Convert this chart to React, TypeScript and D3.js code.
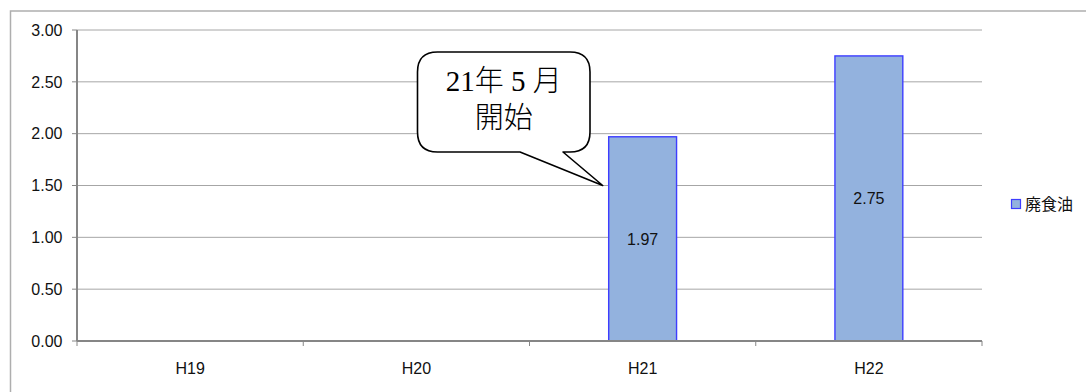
import React from "react";
import * as d3 from "d3";

// Fiscal years and collected waste cooking oil
const categories: string[] = ["H19", "H20", "H21", "H22"];
const values: (number | null)[] = [null, null, 1.97, 2.75];
const yTicks: number[] = [0, 0.5, 1, 1.5, 2, 2.5, 3];
const seriesName = "廃食油";
const calloutLines: string[] = ["21年 5 月", "開始"];

const W = 1086;
const H = 392;
const plot = { left: 77, right: 982, top: 30, bottom: 341 };

const barFill = "#93B2DE";
const barStroke = "#3D3DFF";
const gridColor = "#A6A6A6";
const axisColor = "#868686";
const sans = "'Liberation Sans', Arial, 'Noto Sans CJK JP', sans-serif";

export default function App() {
  const x = d3
    .scaleBand<string>()
    .domain(categories)
    .range([plot.left, plot.right])
    .paddingInner(0)
    .paddingOuter(0);
  const y = d3.scaleLinear().domain([0, 3]).range([plot.bottom, plot.top]);
  const bw = x.bandwidth();
  const barW = bw * 0.3;

  // Speech bubble pointing at the start of the H21 bar
  const tipX = (x("H21") as number) + (bw - barW) / 2 - 6;
  const tipY = y(1.5);
  const bx0 = 417.5, bx1 = 590, by0 = 52, by1 = 152, r = 20;
  const pb0 = 520, pb1 = 563;
  const bubble = [
    `M ${bx0 + r} ${by0}`,
    `L ${bx1 - r} ${by0}`,
    `Q ${bx1} ${by0} ${bx1} ${by0 + r}`,
    `L ${bx1} ${by1 - r}`,
    `Q ${bx1} ${by1} ${bx1 - r} ${by1}`,
    `L ${pb1} ${by1}`,
    `L ${tipX} ${tipY}`,
    `L ${pb0} ${by1}`,
    `L ${bx0 + r} ${by1}`,
    `Q ${bx0} ${by1} ${bx0} ${by1 - r}`,
    `L ${bx0} ${by0 + r}`,
    `Q ${bx0} ${by0} ${bx0 + r} ${by0}`,
    "Z",
  ].join(" ");
  const bubbleCx = (bx0 + bx1) / 2;

  return (
    <div style={{ position: "absolute", left: 0, top: 0 }}>
      <svg width={W} height={H} style={{ display: "block", background: "#fff" }}>
        {/* chart frame */}
        <rect x={10.5} y={11} width={1090} height={420} fill="#fff" stroke="#AEAEAE" strokeWidth={1.5} />

        {/* gridlines */}
        {yTicks
          .filter((t) => t > 0)
          .map((t) => (
            <line key={`g${t}`} x1={plot.left} x2={plot.right} y1={y(t)} y2={y(t)} stroke={gridColor} strokeWidth={1} />
          ))}

        {/* y ticks and labels */}
        {yTicks.map((t) => (
          <g key={`y${t}`}>
            <line x1={plot.left - 5} x2={plot.left} y1={y(t)} y2={y(t)} stroke={axisColor} strokeWidth={1} />
            <text x={62.5} y={y(t)} dy="0.36em" textAnchor="end" fontFamily={sans} fontSize={16} fill="#111">
              {t.toFixed(2)}
            </text>
          </g>
        ))}

        {/* bars */}
        {categories.map((c, i) => {
          const v = values[i];
          if (v == null) return null;
          const bx = (x(c) as number) + (bw - barW) / 2;
          return (
            <g key={`b${c}`}>
              <rect x={bx} y={y(v)} width={barW} height={y(0) - y(v)} fill={barFill} stroke={barStroke} strokeWidth={1.4} />
              <text
                x={bx + barW / 2}
                y={(y(v) + y(0)) / 2}
                dy="0.36em"
                textAnchor="middle"
                fontFamily={sans}
                fontSize={16}
                fill="#111"
              >
                {v.toFixed(2)}
              </text>
            </g>
          );
        })}

        {/* axes */}
        <line x1={plot.left} x2={plot.left} y1={plot.top} y2={plot.bottom} stroke={axisColor} strokeWidth={2} />
        <line x1={plot.left} x2={plot.right} y1={plot.bottom} y2={plot.bottom} stroke={axisColor} strokeWidth={2} />
        {[...categories.map((c) => x(c) as number), plot.right].map((px, i) => (
          <line key={`xt${i}`} x1={px} x2={px} y1={plot.bottom} y2={plot.bottom + 5} stroke={axisColor} strokeWidth={1} />
        ))}
        {categories.map((c) => (
          <text
            key={`xl${c}`}
            x={(x(c) as number) + bw / 2}
            y={368}
            dy="0.36em"
            textAnchor="middle"
            fontFamily={sans}
            fontSize={16}
            fill="#111"
          >
            {c}
          </text>
        ))}

        {/* legend */}
        <rect x={1011.5} y={199.5} width={9} height={9} fill={barFill} stroke={barStroke} strokeWidth={1.2} />
        <text x={1025} y={204.5} dy="0.36em" fontFamily="'Noto Sans CJK JP', sans-serif" fontSize={16} fill="#111">
          {seriesName}
        </text>

        {/* callout */}
        <path d={bubble} fill="#fff" stroke="#000" strokeWidth={1.6} strokeLinejoin="round" />
        {calloutLines.map((s, i) => (
          <text
            key={`c${i}`}
            x={bubbleCx}
            y={81 + i * 37}
            dy="0.36em"
            textAnchor="middle"
            fontFamily="'Liberation Serif', 'Noto Sans CJK JP', serif"
            fontSize={29}
            fontWeight={300}
            fill="#000"
          >
            {s}
          </text>
        ))}
      </svg>
    </div>
  );
}
